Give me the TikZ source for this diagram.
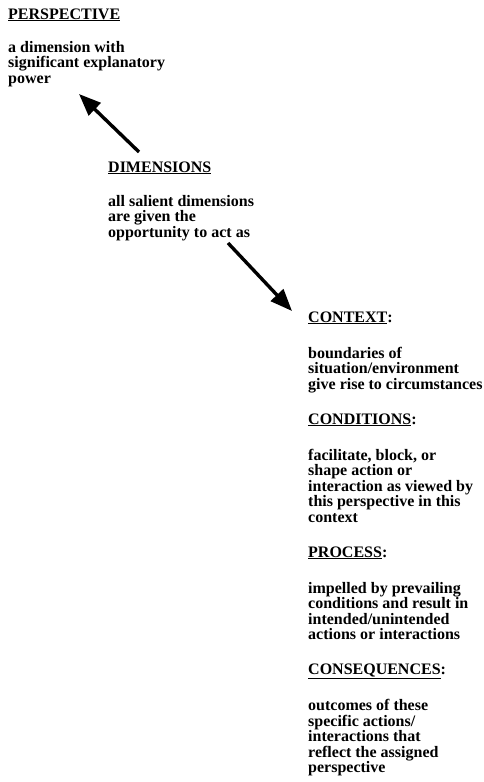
\documentclass[tikz,border=0pt]{standalone}
\usepackage{fontspec}
\setmainfont{Liberation Serif}
\usetikzlibrary{arrows.meta}
\tikzset{
  txt/.style={anchor=base west, inner sep=0pt, font=\fontsize{16}{15.5}\selectfont\bfseries, align=left},
  bigarrow/.style={line width=3.4pt, -{Triangle[length=22pt,width=17pt]}}
}
\begin{document}
\begin{tikzpicture}[x=1pt,y=-1pt]
\useasboundingbox (0,0) rectangle (484,782);
% left column (multi-line nodes: base = baseline of last line)
\node[txt] (persp) at (8,19) {\underline{PERSPECTIVE}};
\node[txt] (perspbody) at (8,83) {a dimension with\\significant explanatory\\power};
\node[txt] (dim) at (108,172) {\underline{DIMENSIONS}};
\node[txt] (dimbody) at (108,237) {all salient dimensions\\are given the\\opportunity to act as};
% right column
\node[txt] (ctx) at (308,322) {\underline{CONTEXT}:};
\node[txt] (ctxbody) at (308,389) {boundaries of\\situation/environment\\give rise to circumstances};
\node[txt] (cond) at (308,424) {\underline{CONDITIONS}:};
\node[txt] (condbody) at (308,522) {facilitate, block, or\\shape action or\\interaction as viewed by\\this perspective in this\\context};
\node[txt] (proc) at (308,557) {\underline{PROCESS}:};
\node[txt] (procbody) at (308,639.5) {impelled by prevailing\\conditions and result in\\intended/unintended\\actions or interactions};
\node[txt] (cons) at (308,674.5) {\underline{CONSEQUENCES}:};
\node[txt] (consbody) at (308,772.5) {outcomes of these\\specific actions/\\interactions that\\reflect the assigned\\perspective};
% arrows
\coordinate (a1s) at (139,152);
\coordinate (a1e) at (79,94);
\coordinate (a2s) at (228,243);
\coordinate (a2e) at (292,311);
\draw[bigarrow] (a1s) -- (a1e);
\draw[bigarrow] (a2s) -- (a2e);
\end{tikzpicture}
\end{document}
